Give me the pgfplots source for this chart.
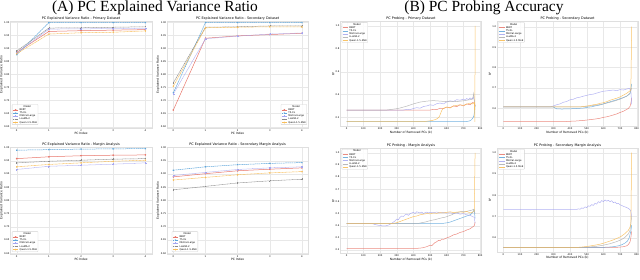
\documentclass[border=0pt]{standalone}
\usepackage{fontspec}
\setmainfont{DejaVu Sans}
\newfontfamily\titlefont{Liberation Serif}
\usepackage{pgfplots}
\pgfplotsset{compat=1.18}
\definecolor{cRed}{HTML}{E8776B}
\definecolor{cBlue}{HTML}{5DA5DA}
\definecolor{cPurple}{HTML}{A5A5F0}
\definecolor{cGray}{HTML}{8A8A8A}
\definecolor{cOrange}{HTML}{F8BE5A}
\pgfplotsset{
  base/.style={
    scale only axis, anchor=south west,
    axis line style={draw=gray!25, line width=0.3bp},
    grid=major, grid style={draw=gray!18, line width=0.35bp},
    major tick length=0pt,
    tick label style={font=\fontsize{2.4}{2.8}\selectfont, inner sep=0.6bp},
    xticklabel style={yshift=-0.8bp},
    label style={font=\fontsize{3}{3.5}\selectfont, inner sep=0.5bp},
    title style={font=\fontsize{3.4}{4}\selectfont, inner sep=0.4bp},
    every axis title shift=0.2bp,
    /pgf/number format/assume math mode=true,
    yticklabel style={/pgf/number format/fixed, /pgf/number format/precision=2, /pgf/number format/fixed zerofill},
    legend cell align=left,
    legend style={font=\fontsize{2.4}{2.8}\selectfont, draw=gray!35, line width=0.3bp, rounded corners=0.6bp, inner sep=0.6bp, row sep=0bp, fill=white, fill opacity=0.85, text opacity=1,
      nodes={inner sep=0.35bp, text height=1.9bp, text depth=0.55bp},
      /tikz/every odd column/.append style={column sep=0.9bp}},
    legend image code/.code={\draw[mark repeat=2,mark phase=2,#1] plot coordinates {(0bp,0bp) (2.6bp,0bp) (5.2bp,0bp)};},
    every axis plot/.append style={line width=0.5bp},
    every mark/.append style={solid},
  },
  pca/.style={base, width=141.5bp, height=107bp, xmin=-0.2, xmax=4.2, xtick={0,1,2,3,4},
    xlabel={PC Index}, ylabel={Explained Variance Ratio}},
  prb/.style={base, width=141.2bp, xmin=-38.5, xmax=808.5, xtick={0,100,...,800},
    xlabel={Number of Removed PCs (k)}, ylabel={R²},
    xticklabel style={/pgf/number format/fixed},
    yticklabel style={/pgf/number format/precision=1},
    legend style={at={(0.01,0.99)}, anchor=north west}},
  sRed/.style={color=cRed, mark=*, mark size=0.55bp},
  sBlue/.style={color=cBlue, dash pattern=on 1.6bp off 0.6bp, mark=x, mark size=0.75bp},
  sPurple/.style={color=cPurple, dash pattern=on 0.6bp off 0.5bp, mark=square*, mark size=0.5bp},
  sGray/.style={color=cGray, dash pattern=on 1.2bp off 0.5bp on 0.5bp off 0.5bp, mark=+, mark size=0.75bp},
  sOrange/.style={color=cOrange, dash pattern=on 2bp off 0.5bp on 0.5bp off 0.5bp, mark=diamond*, mark size=0.65bp},
  lRed/.style={color=cRed, opacity=0.85},
  lBlue/.style={color=cBlue, opacity=0.85},
  lPurple/.style={color=cPurple, opacity=0.85},
  lGray/.style={color=cGray!70, opacity=0.85},
  lOrange/.style={color=cOrange, opacity=0.9},
}
\begin{document}
\begin{tikzpicture}
\path[use as bounding box] (0bp,0bp) rectangle (640bp,-280bp);
\node[font=\titlefont\fontsize{15.5}{18}\selectfont, anchor=base] at (155bp,-11bp) {(A) PC Explained Variance Ratio};
\node[font=\titlefont\fontsize{15.5}{18}\selectfont, anchor=base] at (484bp,-11bp) {(B) PC Probing Accuracy};

% ---------- A1
\begin{axis}[pca, at={(10.3bp,-128bp)}, ymin=0.595, ymax=1.005,
  ytick={0.60,0.65,0.70,0.75,0.80,0.85,0.90,0.95,1.00},
  title={PC Explained Variance Ratio - Primary Dataset},
  legend style={at={(0.012,0.03)}, anchor=south west}]
\addlegendimage{empty legend}
\addplot[sRed] coordinates {(0,0.885)(1,0.965)(2,0.968)(3,0.970)(4,0.972)};
\addplot[sBlue] coordinates {(0,0.876)(1,0.999)(2,0.999)(3,0.999)(4,0.999)};
\addplot[sPurple] coordinates {(0,0.882)(1,0.974)(2,0.975)(3,0.976)(4,0.977)};
\addplot[sGray] coordinates {(0,0.890)(1,0.978)(2,0.979)(3,0.981)(4,0.983)};
\addplot[sOrange] coordinates {(0,0.880)(1,0.955)(2,0.960)(3,0.962)(4,0.967)};
\legend{\hspace{4bp}Model, BERT, T5-XL, Mistral-Large, LLaMA-2, Qwen-1.5-MoE}
\end{axis}

% ---------- A2
\begin{axis}[pca, at={(166.9bp,-128bp)}, ymin=0.595, ymax=1.005,
  ytick={0.60,0.65,0.70,0.75,0.80,0.85,0.90,0.95,1.00},
  title={PC Explained Variance Ratio - Secondary Dataset},
  legend style={at={(0.99,0.03)}, anchor=south east}]
\addlegendimage{empty legend}
\addplot[sRed] coordinates {(0,0.664)(1,0.939)(2,0.948)(3,0.953)(4,0.958)};
\addplot[sBlue] coordinates {(0,0.730)(1,0.999)(2,0.999)(3,0.999)(4,0.999)};
\addplot[sPurple] coordinates {(0,0.725)(1,0.937)(2,0.947)(3,0.955)(4,0.959)};
\addplot[sGray] coordinates {(0,0.768)(1,0.981)(2,0.983)(3,0.986)(4,0.986)};
\addplot[sOrange] coordinates {(0,0.755)(1,0.979)(2,0.981)(3,0.983)(4,0.982)};
\legend{\hspace{4bp}Model, BERT, T5-XL, Mistral-Large, LLaMA-2, Qwen-1.5-MoE}
\end{axis}

% ---------- A3
\begin{axis}[pca, at={(10.3bp,-254bp)}, ymin=0.597, ymax=1.002,
  ytick={0.60,0.65,0.70,0.75,0.80,0.85,0.90,0.95,1.00},
  title={PC Explained Variance Ratio - Margin Analysis},
  legend style={at={(0.012,0.02)}, anchor=south west}]
\addlegendimage{empty legend}
\addplot[sRed] coordinates {(0,0.958)(1,0.965)(2,0.969)(3,0.971)(4,0.972)};
\addplot[sBlue] coordinates {(0,0.990)(1,0.992)(2,0.994)(3,0.995)(4,0.996)};
\addplot[sPurple] coordinates {(0,0.917)(1,0.929)(2,0.933)(3,0.937)(4,0.942)};
\addplot[sGray] coordinates {(0,0.942)(1,0.948)(2,0.952)(3,0.956)(4,0.958)};
\addplot[sOrange] coordinates {(0,0.927)(1,0.936)(2,0.942)(3,0.948)(4,0.952)};
\legend{\hspace{4bp}Model, BERT, T5-XL, Mistral-Large, LLaMA-2, Qwen-1.5-MoE}
\end{axis}

% ---------- A4
\begin{axis}[pca, at={(166.9bp,-254bp)}, ymin=0.597, ymax=1.002,
  ytick={0.60,0.65,0.70,0.75,0.80,0.85,0.90,0.95,1.00},
  title={PC Explained Variance Ratio - Secondary Margin Analysis},
  legend style={at={(0.035,0.02)}, anchor=south west}]
\addlegendimage{empty legend}
\addplot[sRed] coordinates {(0,0.889)(1,0.901)(2,0.912)(3,0.918)(4,0.923)};
\addplot[sBlue] coordinates {(0,0.914)(1,0.927)(2,0.935)(3,0.940)(4,0.943)};
\addplot[sPurple] coordinates {(0,0.894)(1,0.906)(2,0.917)(3,0.923)(4,0.927)};
\addplot[sGray] coordinates {(0,0.840)(1,0.853)(2,0.866)(3,0.874)(4,0.880)};
\addplot[sOrange] coordinates {(0,0.877)(1,0.887)(2,0.897)(3,0.904)(4,0.909)};
\legend{\hspace{4bp}Model, BERT, T5-XL, Mistral-Large, LLaMA-2, Qwen-1.5-MoE}
\end{axis}

% ---------- B1
\begin{axis}[prb, at={(340.3bp,-126.5bp)}, height=105.3bp, ymin=0.12, ymax=1.042,
  ytick={0.2,0.4,0.6,0.8,1.0},
  title={PC Probing - Primary Dataset}]
\addlegendimage{empty legend}
\addplot[lRed] coordinates {(0,0.264)(500,0.264)(520,0.27)(540,0.268)(560,0.28)(580,0.276)(600,0.29)(620,0.285)(640,0.30)(660,0.294)(680,0.31)(700,0.30)(720,0.318)(740,0.31)(755,0.33)(765,0.325)(770,0.30)};
\addplot[lBlue] coordinates {(0,0.162)(700,0.162)(720,0.164)(735,0.168)(745,0.175)(755,0.19)(762,0.21)(767,0.25)(770,0.30)};
\addplot[lPurple] coordinates {(0,0.264)(340,0.264)(360,0.27)(380,0.268)(400,0.278)(420,0.285)(440,0.28)(460,0.295)(480,0.30)(500,0.31)(520,0.305)(540,0.32)(560,0.325)(580,0.318)(600,0.335)(620,0.345)(640,0.34)(660,0.355)(680,0.35)(700,0.36)(710,0.352)(720,0.365)(730,0.355)(740,0.37)(750,0.36)(760,0.375)(765,0.35)(770,0.30)};
\addplot[lGray] coordinates {(0,0.264)(240,0.264)(260,0.268)(280,0.272)(300,0.276)(320,0.282)(340,0.29)(360,0.298)(380,0.308)(400,0.318)(420,0.326)(440,0.334)(460,0.338)(480,0.342)(500,0.345)(520,0.346)(540,0.345)(560,0.342)(580,0.34)(600,0.338)(620,0.337)(640,0.34)(660,0.338)(680,0.342)(700,0.345)(720,0.35)(740,0.355)(755,0.36)(762,0.41)(766,0.34)(770,0.30)};
\addplot[lOrange] coordinates {(0,0.162)(450,0.162)(470,0.164)(490,0.168)(510,0.172)(530,0.18)(545,0.19)(555,0.205)(562,0.23)(570,0.26)(580,0.28)(600,0.29)(620,0.282)(640,0.30)(660,0.305)(680,0.31)(700,0.305)(720,0.315)(740,0.325)(755,0.318)(765,0.33)(769,0.16)(770,1.0)};
\legend{\hspace{4bp}Model, BERT, T5-XL, Mistral-Large, LLaMA-2, Qwen-1.5-MoE}
\end{axis}

% ---------- B2
\begin{axis}[prb, at={(496.9bp,-126.5bp)}, height=105.3bp, ymin=0.5115, ymax=1.027,
  ytick={0.6,0.7,0.8,0.9,1.0},
  title={PC Probing - Secondary Dataset}]
\addlegendimage{empty legend}
\addplot[lRed] coordinates {(0,0.535)(350,0.535)(380,0.536)(400,0.537)(430,0.538)(460,0.54)(490,0.542)(520,0.545)(550,0.548)(580,0.552)(600,0.556)(620,0.559)(640,0.563)(660,0.568)(680,0.573)(700,0.58)(720,0.586)(740,0.595)(750,0.60)(760,0.61)(765,0.625)(770,0.65)};
\addplot[lBlue] coordinates {(0,0.607)(300,0.607)(320,0.598)(350,0.597)(400,0.598)(450,0.60)(480,0.602)(500,0.605)(530,0.608)(550,0.612)(580,0.617)(600,0.622)(630,0.63)(650,0.635)(680,0.642)(700,0.648)(720,0.653)(740,0.66)(760,0.672)(770,0.72)};
\addplot[lPurple] coordinates {(0,0.607)(280,0.607)(300,0.612)(320,0.618)(340,0.622)(360,0.63)(380,0.634)(400,0.642)(420,0.645)(440,0.652)(460,0.655)(480,0.66)(500,0.664)(520,0.668)(540,0.67)(560,0.675)(580,0.68)(600,0.684)(620,0.686)(640,0.688)(660,0.69)(680,0.687)(700,0.692)(720,0.69)(740,0.695)(755,0.698)(765,0.69)(770,0.62)};
\addplot[lGray] coordinates {(0,0.607)(450,0.607)(500,0.61)(550,0.615)(600,0.622)(650,0.632)(700,0.645)(740,0.66)(760,0.675)(770,0.70)};
\addplot[lOrange] coordinates {(0,0.607)(450,0.607)(480,0.609)(500,0.612)(520,0.614)(540,0.618)(560,0.62)(580,0.625)(600,0.628)(620,0.633)(640,0.64)(660,0.645)(680,0.65)(700,0.656)(720,0.665)(740,0.674)(755,0.683)(765,0.69)(770,1.0)};
\legend{\hspace{4bp}Model, BERT, T5-XL, Mistral-Large, LLaMA-2, Qwen-1.5-MoE}
\end{axis}

% ---------- B3
\begin{axis}[prb, at={(340.3bp,-253.1bp)}, height=105.2bp, ymin=0.175, ymax=1.04,
  ytick={0.2,0.3,0.4,0.5,0.6,0.7,0.8,0.9,1.0},
  title={PC Probing - Margin Analysis}]
\addlegendimage{empty legend}
\addplot[lRed] coordinates {(0,0.214)(420,0.214)(440,0.216)(460,0.22)(480,0.228)(500,0.24)(510,0.236)(520,0.25)(530,0.262)(540,0.268)(550,0.28)(560,0.276)(570,0.29)(580,0.288)(600,0.30)(620,0.31)(640,0.325)(660,0.332)(680,0.345)(700,0.352)(720,0.365)(740,0.375)(755,0.39)(765,0.40)(770,0.43)};
\addplot[lBlue] coordinates {(0,0.419)(560,0.419)(580,0.42)(600,0.424)(620,0.43)(640,0.44)(660,0.45)(680,0.46)(700,0.47)(720,0.48)(740,0.49)(750,0.50)(760,0.52)(765,0.53)(770,0.46)};
\addplot[lPurple] coordinates {(0,0.419)(150,0.419)(170,0.41)(190,0.404)(210,0.40)(230,0.398)(250,0.405)(270,0.42)(290,0.44)(300,0.455)(310,0.45)(320,0.47)(330,0.48)(340,0.476)(350,0.49)(360,0.495)(370,0.485)(380,0.50)(390,0.505)(400,0.51)(410,0.50)(420,0.515)(430,0.51)(440,0.505)(450,0.512)(460,0.50)(470,0.508)(480,0.512)(490,0.505)(500,0.51)(520,0.508)(540,0.512)(560,0.505)(580,0.51)(600,0.503)(620,0.507)(640,0.50)(660,0.505)(680,0.495)(700,0.50)(720,0.49)(740,0.485)(755,0.475)(765,0.47)(770,0.42)};
\addplot[lGray] coordinates {(0,0.419)(430,0.419)(450,0.425)(470,0.43)(490,0.438)(510,0.445)(530,0.45)(550,0.458)(570,0.465)(590,0.47)(610,0.48)(630,0.49)(650,0.505)(670,0.51)(690,0.518)(710,0.515)(730,0.522)(750,0.528)(760,0.535)(770,0.50)};
\addplot[lOrange] coordinates {(0,0.419)(280,0.419)(300,0.425)(320,0.435)(340,0.445)(360,0.455)(380,0.465)(400,0.475)(420,0.48)(440,0.49)(460,0.495)(480,0.50)(500,0.498)(520,0.505)(540,0.502)(560,0.508)(580,0.505)(600,0.51)(620,0.515)(640,0.508)(660,0.512)(680,0.515)(700,0.51)(720,0.518)(740,0.505)(755,0.512)(765,0.52)(770,1.0)};
\legend{\hspace{4bp}Model, BERT, T5-XL, Mistral-Large, LLaMA-2, Qwen-1.5-MoE}
\end{axis}

% ---------- B4
\begin{axis}[prb, at={(496.9bp,-252bp)}, height=104bp, ymin=0.533, ymax=1.022,
  ytick={0.6,0.7,0.8,0.9,1.0},
  title={PC Probing - Secondary Margin Analysis}]
\addlegendimage{empty legend}
\addplot[lRed] coordinates {(0,0.555)(680,0.555)(700,0.556)(720,0.558)(740,0.562)(750,0.568)(760,0.58)(765,0.60)(770,0.63)};
\addplot[lBlue] coordinates {(0,0.555)(600,0.555)(630,0.556)(660,0.558)(690,0.562)(710,0.567)(730,0.575)(745,0.585)(755,0.60)(765,0.63)(770,0.66)};
\addplot[lPurple] coordinates {(0,0.733)(440,0.733)(450,0.736)(460,0.734)(470,0.74)(480,0.738)(490,0.745)(500,0.742)(510,0.75)(520,0.748)(530,0.756)(540,0.752)(550,0.762)(560,0.758)(570,0.77)(580,0.765)(590,0.775)(600,0.77)(610,0.778)(620,0.772)(630,0.776)(640,0.77)(650,0.774)(660,0.765)(670,0.768)(680,0.76)(690,0.762)(700,0.755)(710,0.752)(720,0.748)(730,0.745)(740,0.742)(750,0.738)(760,0.732)(765,0.725)(770,0.70)};
\addplot[lGray] coordinates {(0,0.555)(480,0.555)(520,0.557)(560,0.56)(600,0.565)(640,0.572)(680,0.582)(710,0.592)(730,0.602)(750,0.618)(760,0.635)(770,0.70)};
\addplot[lOrange] coordinates {(0,0.555)(450,0.555)(480,0.557)(510,0.56)(540,0.564)(570,0.568)(600,0.574)(630,0.582)(660,0.59)(690,0.60)(710,0.608)(730,0.62)(750,0.635)(760,0.65)(765,0.665)(770,1.0)};
\legend{\hspace{4bp}Model, BERT, T5-XL, Mistral-Large, LLaMA-2, Qwen-1.5-MoE}
\end{axis}
\end{tikzpicture}
\end{document}
